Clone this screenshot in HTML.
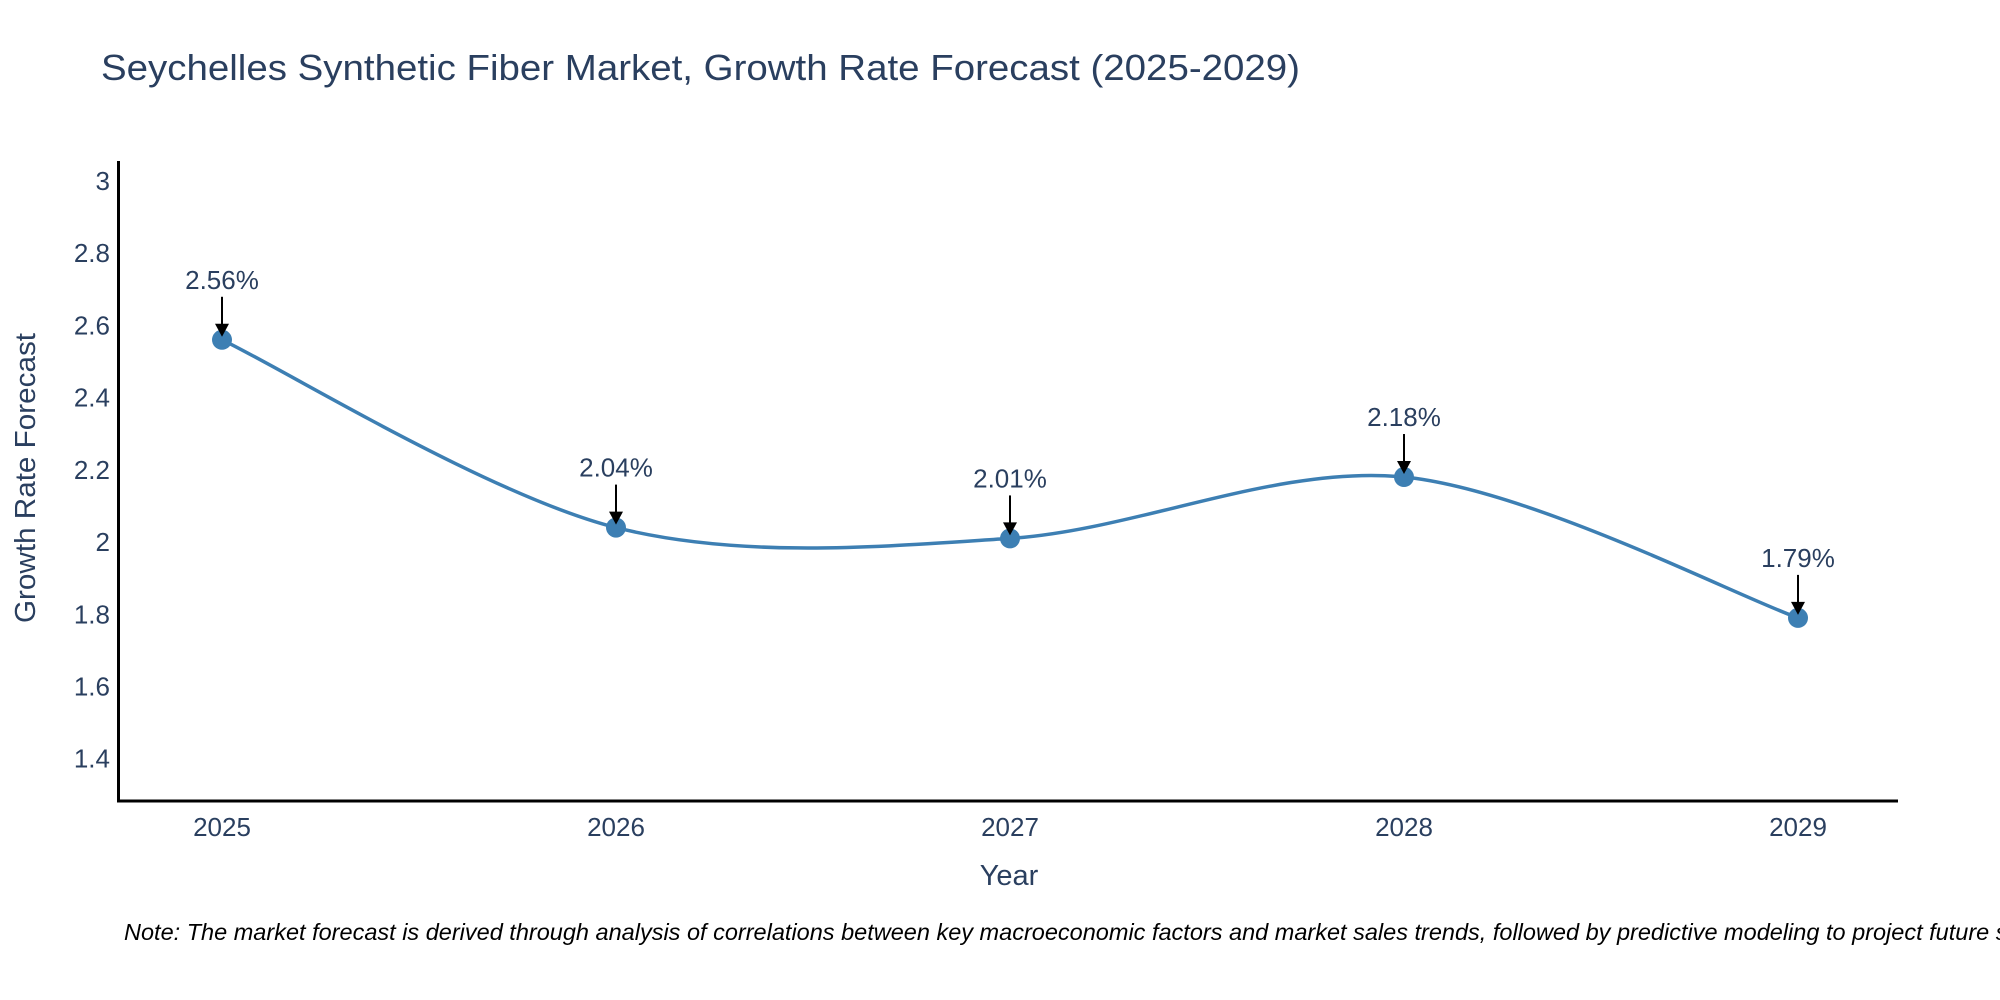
<!DOCTYPE html>
<html><head><meta charset="utf-8"><style>
html,body{margin:0;padding:0;background:#fff;}
svg{display:block;font-family:"Liberation Sans",sans-serif;}
</style></head><body>
<svg id="chart" width="2000" height="1000" viewBox="0 0 2000 1000" xmlns="http://www.w3.org/2000/svg">
<rect width="2000" height="1000" fill="#fff"/>
<text x="101" y="80" font-size="36" fill="#2a3f5f" textLength="1199" lengthAdjust="spacingAndGlyphs">Seychelles Synthetic Fiber Market, Growth Rate Forecast (2025-2029)</text>
<g id="yticks"></g>
<g id="xticks"></g>
<path id="line" fill="none" stroke="#3d7fb3" stroke-width="3.5"/>
<g id="marks"></g>
<g id="annos"></g>
<line x1="118.5" y1="161" x2="118.5" y2="802" stroke="#000" stroke-width="3"/>
<line x1="117" y1="801" x2="1898" y2="801" stroke="#000" stroke-width="3"/>
<text x="1009" y="885" font-size="29" fill="#2a3f5f" text-anchor="middle">Year</text>
<text transform="translate(35,478) rotate(-90)" font-size="29" fill="#2a3f5f" text-anchor="middle" textLength="290" lengthAdjust="spacingAndGlyphs">Growth Rate Forecast</text>
<text x="124" y="940" font-size="23.5" font-style="italic" fill="#000">Note: The market forecast is derived through analysis of correlations between key macroeconomic factors and market sales trends, followed by predictive modeling to project future sales.</text>
</svg>
<script>
const years = ["2025","2026","2027","2028","2029"];
const growthValues = [2.56, 2.04, 2.01, 2.18, 1.79];
const labels = ["2.56%","2.04%","2.01%","2.18%","1.79%"];
const yTicks = [1.4, 1.6, 1.8, 2, 2.2, 2.4, 2.6, 2.8, 3];
const yTickLabels = ["1.4","1.6","1.8","2","2.2","2.4","2.6","2.8","3"];

const NS = "http://www.w3.org/2000/svg";
const yMin = 1.283, yMax = 3.055, pTop = 161, pBot = 801;
function yScale(v){ return pBot - (v - yMin) / (yMax - yMin) * (pBot - pTop); }
function xScale(i){ return 222 + i * (1798 - 222) / (years.length - 1); }
function mk(tag, attrs){ const e = document.createElementNS(NS, tag); for (const k in attrs) e.setAttribute(k, attrs[k]); return e; }

const yg = document.getElementById('yticks');
yTicks.forEach((t, i) => {
  const e = mk('text', {x: 110, y: yScale(t) + 9, 'font-size': 26, fill: '#2a3f5f', 'text-anchor': 'end'});
  
  
  e.textContent = yTickLabels[i];
  yg.appendChild(e);
});
const xg = document.getElementById('xticks');
years.forEach((y, i) => {
  const e = mk('text', {x: xScale(i), y: 836, 'font-size': 26, fill: '#2a3f5f', 'text-anchor': 'middle'});
  
  
  e.textContent = y;
  xg.appendChild(e);
});

const pts = growthValues.map((v, i) => [xScale(i), yScale(v)]);
let d = `M${pts[0][0]},${pts[0][1]}`;
const s = 0.16;
for (let i = 0; i < pts.length - 1; i++) {
  const p0 = pts[Math.max(i - 1, 0)], p1 = pts[i], p2 = pts[i + 1], p3 = pts[Math.min(i + 2, pts.length - 1)];
  const c1 = [p1[0] + (p2[0] - p0[0]) * s, p1[1] + (p2[1] - p0[1]) * s];
  const c2 = [p2[0] - (p3[0] - p1[0]) * s, p2[1] - (p3[1] - p1[1]) * s];
  d += ` C${c1[0]},${c1[1]} ${c2[0]},${c2[1]} ${p2[0]},${p2[1]}`;
}
document.getElementById('line').setAttribute('d', d);

const mg = document.getElementById('marks');
const ag = document.getElementById('annos');
pts.forEach((p, i) => {
  const c = mk('circle', {cx: p[0], cy: p[1], r: 10, fill: '#3d7fb3'});
  
  
  mg.appendChild(c);
  const l = mk('line', {x1: p[0], y1: p[1] - 43, x2: p[0], y2: p[1] - 14, stroke: '#000', 'stroke-width': 2});
  
  
  ag.appendChild(l);
  const h = mk('polygon', {points: `${p[0]-7},${p[1]-16} ${p[0]+7},${p[1]-16} ${p[0]},${p[1]-3}`, fill: '#000'});
  
  
  ag.appendChild(h);
  const t = mk('text', {x: p[0], y: p[1] - 51, 'font-size': 26, fill: '#2a3f5f', 'text-anchor': 'middle'});
  
  
  t.textContent = labels[i];
  ag.appendChild(t);
});
</script>
</body></html>
